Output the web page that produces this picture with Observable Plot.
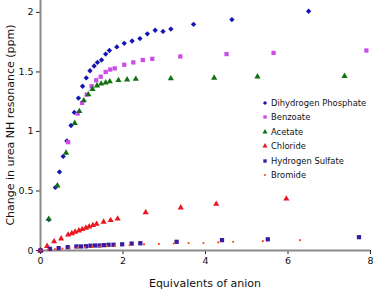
<!DOCTYPE html>
<html>
<head>
<meta charset="utf-8">
<script src="https://cdn.jsdelivr.net/npm/d3@7"></script>
<script src="https://cdn.jsdelivr.net/npm/@observablehq/plot@0.6"></script>
<style>
  body { margin: 0; background: #fff; }
  #wrap { position: relative; width: 378px; height: 290px; font-family: "DejaVu Sans", Verdana, sans-serif; }
  #legend { position: absolute; left: 260px; top: 95.5px; font-size: 8.4px; color: #111; }
  #legend .row { height: 14.5px; line-height: 14.5px; display: flex; align-items: center; white-space: nowrap; }
  #legend svg { width: 10px; height: 10px; margin-right: 1px; }
</style>
</head>
<body>
<div id="wrap"><div id="legend"></div></div>
<script>
const seriesNames = ["Dihydrogen Phosphate", "Benzoate", "Acetate", "Chloride", "Hydrogen Sulfate", "Bromide"];
const seriesColors = ["#1414b4", "#cc4ce8", "#117011", "#ec1620", "#3a1aa0", "#ff4a26"];
const seriesSymbols = ["diamond2", "square", "triangle", "triangle", "square", "circle"];
const xTicks = [0, 2, 4, 6, 8];
const yTicks = [0, 0.5, 1, 1.5, 2];

const phosphateX = [0, 0.2, 0.36, 0.46, 0.55, 0.64, 0.74, 0.82, 0.92, 1.02, 1.11, 1.20, 1.30, 1.38, 1.48, 1.58, 1.67, 1.85, 2.03, 2.22, 2.41, 2.59, 2.78, 2.97, 3.16, 3.71, 4.64, 6.50];
const phosphateY = [0, 0.26, 0.53, 0.66, 0.79, 0.92, 1.05, 1.16, 1.28, 1.38, 1.45, 1.51, 1.55, 1.58, 1.60, 1.65, 1.68, 1.71, 1.74, 1.76, 1.78, 1.82, 1.85, 1.84, 1.86, 1.90, 1.94, 2.01];

const benzoateX = [0, 0.67, 0.90, 1.01, 1.12, 1.24, 1.35, 1.46, 1.58, 1.69, 1.80, 2.03, 2.25, 2.48, 2.71, 3.39, 4.51, 5.65, 7.90];
const benzoateY = [0, 0.91, 1.15, 1.24, 1.31, 1.38, 1.43, 1.46, 1.50, 1.52, 1.53, 1.56, 1.58, 1.60, 1.61, 1.63, 1.65, 1.66, 1.68];

const acetateX = [0, 0.2, 0.41, 0.62, 0.83, 0.94, 1.05, 1.16, 1.26, 1.37, 1.47, 1.58, 1.68, 1.89, 2.10, 2.31, 3.16, 4.21, 5.26, 7.37];
const acetateY = [0, 0.265, 0.545, 0.82, 1.07, 1.17, 1.26, 1.31, 1.355, 1.385, 1.40, 1.41, 1.42, 1.43, 1.435, 1.44, 1.445, 1.45, 1.46, 1.465];

const chlorideX = [0, 0.16, 0.33, 0.50, 0.67, 0.76, 0.84, 0.93, 1.01, 1.10, 1.18, 1.27, 1.36, 1.53, 1.70, 1.87, 2.55, 3.40, 4.26, 5.96];
const chlorideY = [0, 0.037, 0.075, 0.10, 0.132, 0.144, 0.156, 0.167, 0.178, 0.19, 0.20, 0.212, 0.222, 0.24, 0.254, 0.267, 0.32, 0.36, 0.39, 0.435];

const sulfateX = [0, 0.23, 0.44, 0.66, 0.87, 0.98, 1.10, 1.21, 1.32, 1.43, 1.54, 1.65, 1.77, 1.98, 2.21, 2.42, 3.30, 4.40, 5.51, 7.72];
const sulfateY = [0, 0.014, 0.02, 0.028, 0.034, 0.034, 0.036, 0.04, 0.042, 0.042, 0.045, 0.048, 0.048, 0.052, 0.058, 0.061, 0.073, 0.087, 0.094, 0.112];

const bromideX = [0, 0.18, 0.35, 0.53, 0.71, 0.90, 1.08, 1.26, 1.44, 1.62, 1.80, 2.16, 2.51, 2.87, 3.23, 3.59, 3.95, 4.31, 4.67, 5.39, 6.29];
const bromideY = [0, 0.008, 0.012, 0.016, 0.02, 0.024, 0.027, 0.03, 0.033, 0.036, 0.039, 0.044, 0.051, 0.055, 0.059, 0.062, 0.063, 0.068, 0.073, 0.078, 0.087];

const seriesX = [phosphateX, benzoateX, acetateX, chlorideX, sulfateX, bromideX];
const seriesY = [phosphateY, benzoateY, acetateY, chlorideY, sulfateY, bromideY];
const seriesR = [2.4, 2.4, 2.3, 2.3, 2.4, 1.1];

const tables = seriesNames.map((name, i) => seriesX[i].map((x, j) => ({name, x, y: seriesY[i][j]})));

const dotMarks = tables.map((t, i) => Plot.dot(t, {
  x: "x", y: "y", symbol: () => seriesSymbols[i], r: seriesR[i],
  fill: seriesColors[i], stroke: "none"
}));

const chart = Plot.plot({
  width: 378,
  height: 290,
  marginLeft: 40,
  marginRight: 8,
  marginTop: 0,
  marginBottom: 40,
  style: { fontFamily: "DejaVu Sans, Verdana, sans-serif", background: "#fff", color: "#111" },
  x: { domain: [0, 8], ticks: xTicks, tickFormat: d => String(d) },
  y: { domain: [0, 2.1], ticks: yTicks, tickFormat: d => String(d) },
  symbol: { type: "identity" },
  marks: [
    Plot.axisX({ ticks: xTicks, tickFormat: d => String(d), tickSize: 4, tickPadding: 3, fontSize: 9.5, label: null, stroke: "#222" }),
    Plot.axisY({ ticks: yTicks, tickFormat: d => String(d), tickSize: 4, tickPadding: 3, fontSize: 9.5, label: null, stroke: "#222" }),
    Plot.ruleY([0], { stroke: "#8a8a8a", strokeWidth: 2 }),
    Plot.ruleX([0], { stroke: "#8a8a8a", strokeWidth: 2 }),
    ...dotMarks
  ]
});

const svg = d3.select(chart);
svg.append("text")
  .attr("x", 205).attr("y", 287)
  .attr("text-anchor", "middle")
  .attr("font-size", 11).attr("fill", "#111")
  .text("Equivalents of anion");
svg.append("text")
  .attr("transform", "translate(14,125) rotate(-90)")
  .attr("text-anchor", "middle")
  .attr("font-size", 11).attr("fill", "#111")
  .text("Change in urea NH resonance (ppm)");

document.getElementById("wrap").prepend(chart);

const legend = d3.select("#legend");
const symMap = { diamond2: d3.symbolDiamond2, square: d3.symbolSquare, triangle: d3.symbolTriangle, circle: d3.symbolCircle };
seriesNames.forEach((name, i) => {
  const row = legend.append("div").attr("class", "row");
  const s = row.append("svg").attr("viewBox", "-5 -5 10 10");
  const r = i === 5 ? 1.1 : 1.9;
  s.append("path")
    .attr("d", d3.symbol(symMap[seriesSymbols[i]], Math.PI * r * r)())
    .attr("fill", seriesColors[i]);
  row.append("span").text(name);
});
</script>
</body>
</html>
